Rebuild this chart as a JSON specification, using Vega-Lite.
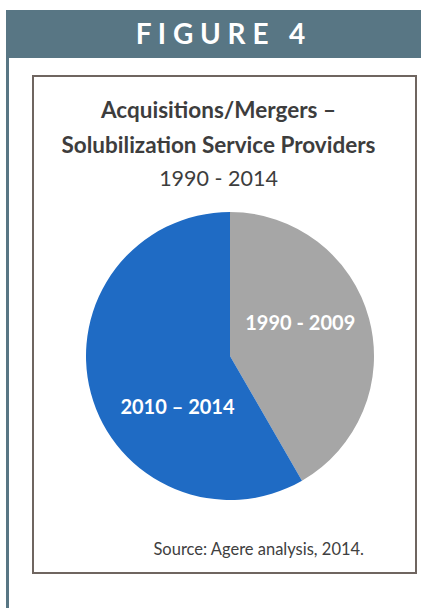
{
  "$schema": "https://vega.github.io/schema/vega-lite/v6.json",
  "padding": {"left": 6, "top": 10, "right": 0, "bottom": 0},
  "background": "white",
  "datasets": {
    "header": [{"text": "F I G U R E\u00a0\u00a0 4"}],
    "shares": [
      {"period": "1990 - 2009", "count": 5},
      {"period": "2010 – 2014", "count": 7}
    ],
    "note": [{"text": "Source: Agere analysis, 2014."}]
  },
  "config": {"view": {"stroke": null}, "font": "Lato"},
  "spacing": 0,
  "vconcat": [
    {
      "width": 415,
      "height": 48,
      "view": {"fill": "#587684", "stroke": null},
      "data": {"name": "header"},
      "mark": {"type": "text", "font": "Lato", "fontSize": 28, "fontWeight": "bold", "color": "white", "align": "center", "baseline": "middle", "dx": 7, "dy": 2},
      "encoding": {"text": {"field": "text", "type": "nominal"}}
    },
    {
      "spacing": 23,
      "hconcat": [
        {
          "width": 3,
          "height": 550,
          "view": {"fill": "#587684", "stroke": null},
          "data": {"values": [{"k": 1}]},
          "mark": {"type": "rect", "color": "#587684"},
          "encoding": {}
        },
        {
          "spacing": 16,
          "vconcat": [
            {
              "width": 383,
              "height": 1,
              "data": {"values": []},
              "mark": "point",
              "encoding": {}
            },
            {
              "width": 383,
              "height": 497,
              "view": {"stroke": "#6f6560", "strokeWidth": 2, "fill": "white"},
              "title": {
                "text": ["Acquisitions/Mergers –", "Solubilization Service Providers"],
                "subtitle": "1990 - 2014",
                "anchor": "middle",
                "frame": "group",
                "offset": -114,
                "dx": -6,
                "font": "Lato",
                "fontSize": 22.5,
                "fontWeight": "bold",
                "color": "#3d3d3d",
                "lineHeight": 35,
                "subtitleFont": "Lato",
                "subtitleFontSize": 21.5,
                "subtitleFontWeight": "normal",
                "subtitleColor": "#3d3d3d",
                "subtitlePadding": 11
              },
              "layer": [
                {
                  "data": {"name": "shares"},
                  "mark": {"type": "arc", "outerRadius": 144, "xOffset": 5.5, "yOffset": 31.5},
                  "encoding": {
                    "theta": {"field": "count", "type": "quantitative", "stack": true},
                    "color": {
                      "field": "period",
                      "type": "nominal",
                      "scale": {"domain": ["1990 - 2009", "2010 – 2014"], "range": ["#a6a6a6", "#1f6bc4"]},
                      "legend": null
                    }
                  }
                },
                {
                  "data": {"name": "shares"},
                  "mark": {"type": "text", "radius": 77, "thetaOffset": -0.16, "xOffset": 5.5, "yOffset": 31.5, "font": "Lato", "fontSize": 20, "fontWeight": "bold", "color": "white", "align": "center", "baseline": "middle"},
                  "encoding": {
                    "theta": {"field": "count", "type": "quantitative", "stack": true},
                    "detail": {"field": "period", "type": "nominal"},
                    "text": {"condition": {"test": "datum.period === '1990 - 2009'", "field": "period", "type": "nominal"}, "value": ""}
                  }
                },
                {
                  "data": {"name": "shares"},
                  "mark": {"type": "text", "radius": 74, "thetaOffset": -0.52, "xOffset": 5.5, "yOffset": 31.5, "font": "Lato", "fontSize": 20, "fontWeight": "bold", "color": "white", "align": "center", "baseline": "middle"},
                  "encoding": {
                    "theta": {"field": "count", "type": "quantitative", "stack": true},
                    "detail": {"field": "period", "type": "nominal"},
                    "text": {"condition": {"test": "datum.period === '2010 – 2014'", "field": "period", "type": "nominal"}, "value": ""}
                  }
                },
                {
                  "data": {"name": "note"},
                  "mark": {"type": "text", "x": "width", "y": "height", "align": "right", "baseline": "alphabetic", "dx": -52, "dy": -18, "font": "Lato", "fontSize": 16.5, "color": "#404040"},
                  "encoding": {"text": {"field": "text", "type": "nominal"}}
                }
              ]
            }
          ]
        }
      ]
    }
  ]
}
